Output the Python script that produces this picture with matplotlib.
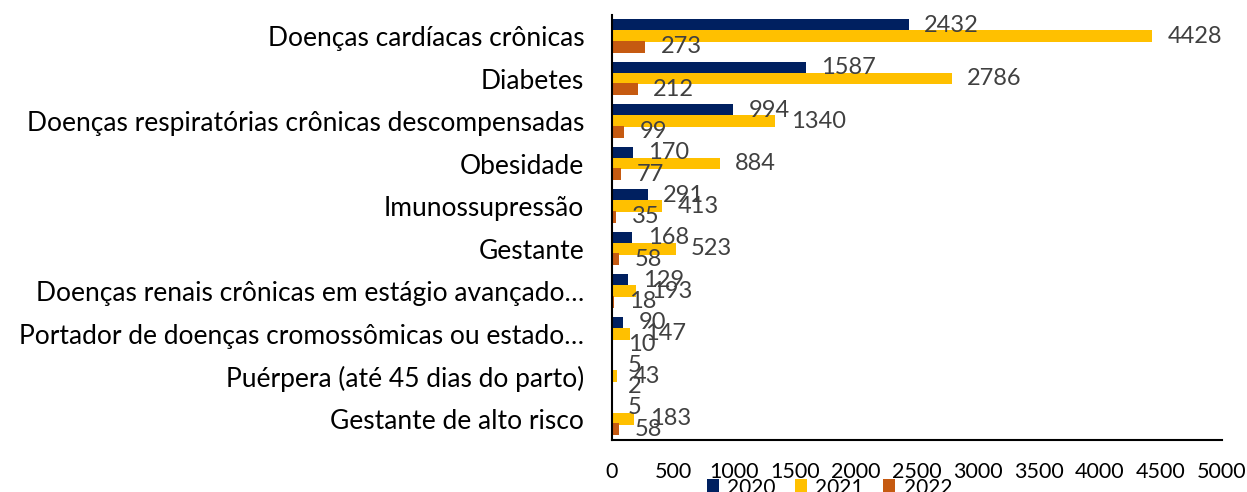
import numpy as np
import matplotlib.pyplot as plt

categorias = ['Doenças cardíacas crônicas', 'Diabetes',
              'Doenças respiratórias crônicas descompensadas', 'Obesidade',
              'Imunossupressão', 'Gestante',
              'Doenças renais crônicas em estágio avançado…',
              'Portador de doenças cromossômicas ou estado…',
              'Puérpera (até 45 dias do parto)', 'Gestante de alto risco']
v2020 = [2432, 1587, 994, 170, 291, 168, 129, 90, 5, 5]
v2021 = [4428, 2786, 1340, 884, 413, 523, 193, 147, 43, 183]
v2022 = [273, 212, 99, 77, 35, 58, 18, 10, 2, 58]
anos = ['2020', '2021', '2022']
cores = ['#002060', '#FFC000', '#C55A11']

plt.rcParams['font.family'] = ['Lato', 'DejaVu Sans']

fig = plt.figure(figsize=(12.47, 4.92), dpi=100)
ax = fig.add_axes([612 / 1247, 0.106, 610 / 1247, 0.864])

y = np.arange(len(categorias))
h = 0.28
for serie, off, cor, ano in zip([v2020, v2021, v2022], [-0.25, 0, 0.25], cores, anos):
    barras = ax.barh(y + off, serie, height=h, color=cor, label=ano)
    ax.bar_label(barras, padding=11, fontsize=17, color='#404040')

ax.set_ylim(len(categorias) - 0.5, -0.5)
ax.set_xlim(0, 5000)
ax.set_xticks(np.arange(0, 5001, 500))
ax.set_yticks(y)
ax.set_yticklabels(categorias, fontsize=19)
ax.tick_params(axis='y', length=0, pad=20)
ax.tick_params(axis='x', length=0, pad=16, labelsize=15.5)
for s in ['top', 'right']:
    ax.spines[s].set_visible(False)
for s in ['left', 'bottom']:
    ax.spines[s].set_linewidth(1.5)

fig.legend(loc='center', bbox_to_anchor=(0.665, 0.008), ncol=3, frameon=False,
           fontsize=15, handlelength=0.6, handleheight=0.7, columnspacing=0.9,
           handletextpad=0.4)

fig.savefig('out.png', dpi=100)
